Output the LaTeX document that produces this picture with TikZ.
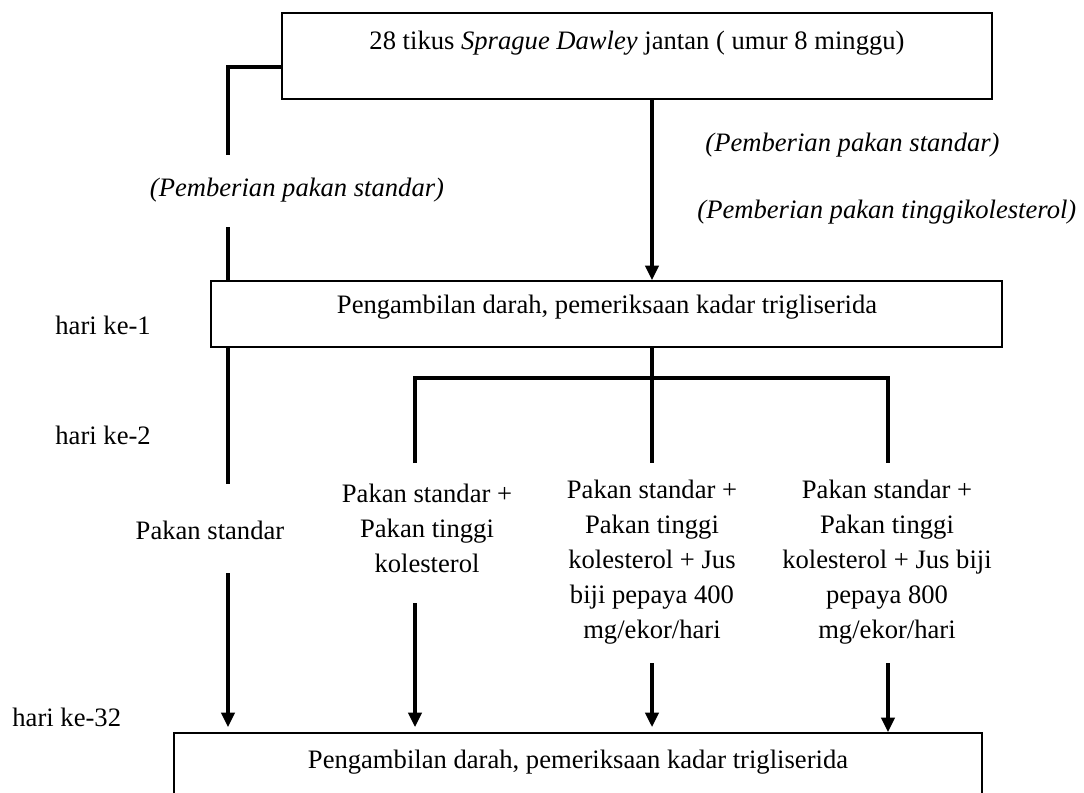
\documentclass[tikz,border=0pt]{standalone}
\usepackage{fontspec}
\setmainfont{Liberation Serif}
\usetikzlibrary{arrows.meta}
\begin{document}
\begin{tikzpicture}[x=0.451pt,y=-0.451pt,
  box/.style={draw,line width=0.8pt,inner sep=0pt},
  conn/.style={line width=1.4pt},
  arr/.style={conn,-{Triangle[width=6pt,length=6.5pt]}},
  txt/.style={font=\fontsize{12}{15.8}\selectfont,inner sep=0pt,align=center},
  lbl/.style={font=\fontsize{12}{15.8}\selectfont\itshape,inner sep=0pt}]
\useasboundingbox (0,0) rectangle (1084,792);
\clip (0,0) rectangle (1084,792);
% boxes
\node[box,minimum width={710*0.451pt},minimum height={86*0.451pt}] (b1) at (637,56) {};
\node[txt] (t1) at (637,43) {28 tikus \textit{Sprague Dawley} jantan ( umur 8 minggu)};
\node[box,minimum width={791*0.451pt},minimum height={66*0.451pt}] (b2) at (606.5,314) {};
\node[txt] (t2) at (607,307) {Pengambilan darah, pemeriksaan kadar trigliserida};
\node[box,minimum width={808*0.451pt},minimum height={87*0.451pt}] (b3) at (578,776.5) {};
\node[txt] (t3) at (578,762) {Pengambilan darah, pemeriksaan kadar trigliserida};
% side labels
\node[txt,anchor=west] (h1) at (55,325) {hari ke-1};
\node[txt,anchor=west] (h2) at (55,435) {hari ke-2};
\node[txt,anchor=west] (h32) at (12,717) {hari ke-32};
% italic labels
\node[lbl] (p1) at (297,190) {(Pemberian pakan standar)};
\node[lbl,anchor=west] (p2) at (705,145) {(Pemberian pakan standar)};
\node[lbl,anchor=west] (p3) at (697,212) {(Pemberian pakan tinggikolesterol)};
% group texts
\node[txt] (g1) at (210,530) {Pakan standar};
\node[txt] (g2) at (427,528) {Pakan standar +\\Pakan tinggi\\kolesterol};
\node[txt] (g3) at (652,562) {Pakan standar +\\Pakan tinggi\\kolesterol + Jus\\biji pepaya 400\\mg/ekor/hari};
\node[txt] (g4) at (887,562) {Pakan standar +\\Pakan tinggi\\kolesterol + Jus biji\\pepaya 800\\mg/ekor/hari};
% coordinates
\coordinate (lk) at (228,67);
\coordinate (cx) at (652,0);
\coordinate (c2) at (415,378);
\coordinate (c4) at (888,378);
% left branch
\draw[conn] (b1.west |- lk) -- (lk) -- (228,155);
\draw[conn] (228,227) -- (b2.north -| lk);
\draw[conn] (b2.south -| lk) -- (228,484);
\draw[arr] (228,573) -- (228,727);
% centre
\draw[arr] (b1.south -| cx) -- (b2.north -| cx);
\draw[conn] (b2.south -| cx) -- (652,463);
\draw[conn] (415,463) -- (c2) -- (c4) -- (888,463);
\draw[arr] (415,603) -- (415,727);
\draw[arr] (652,663) -- (652,727);
\draw[arr] (888,663) -- (b3.north -| c4);
\end{tikzpicture}
\end{document}
